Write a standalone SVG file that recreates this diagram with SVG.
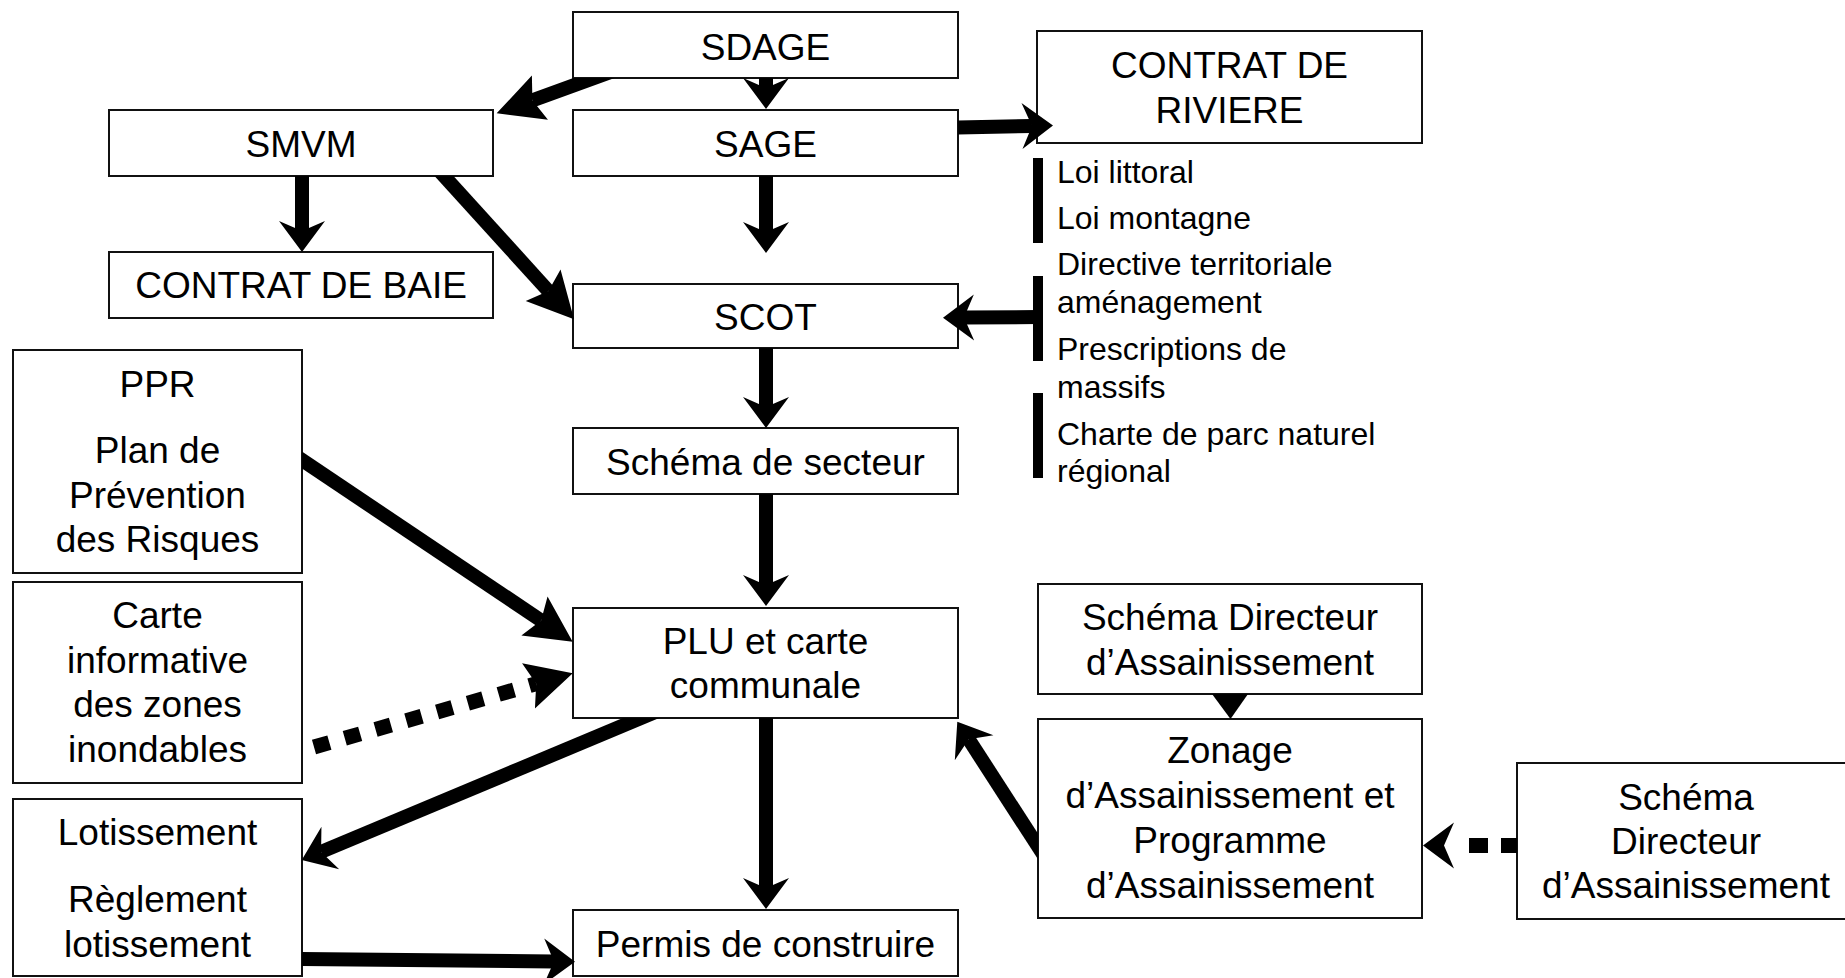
<svg xmlns="http://www.w3.org/2000/svg" width="1845" height="978" viewBox="0 0 1845 978">
<style>
.box{fill:#fff;stroke:#111;stroke-width:2}
text{font-family:"Liberation Sans",Arial,sans-serif;fill:#000}
.t{font-size:37px;text-anchor:middle}
.s{font-size:32px}
.c{stroke:#000;stroke-width:14;fill:none}
.d{stroke:#000;stroke-width:15;fill:none}
.bar{fill:#000}
</style>
<defs>
<marker id="ah" markerUnits="userSpaceOnUse" orient="auto" refX="0" refY="0" markerWidth="1" markerHeight="1" overflow="visible"><path d="M-10,-23 L21,0 L-10,23 L0,0 Z" fill="#000"/></marker>
<marker id="ahL" markerUnits="userSpaceOnUse" orient="auto" refX="0" refY="0" markerWidth="1" markerHeight="1" overflow="visible"><path d="M-8,-23.5 L38,0 L-8,23.5 L0,0 Z" fill="#000"/></marker>
<clipPath id="xSDAGE"><path clip-rule="evenodd" d="M0 0H1845V978H0Z M573 12H958V78H573Z"/></clipPath>
<clipPath id="xSMVM"><path clip-rule="evenodd" d="M0 0H1845V978H0Z M109 110H493V176H109Z"/></clipPath>
<clipPath id="xPPR"><path clip-rule="evenodd" d="M0 0H1845V978H0Z M13 350H302V573H13Z"/></clipPath>
<clipPath id="xPLU"><path clip-rule="evenodd" d="M0 0H1845V978H0Z M573 608H958V718H573Z"/></clipPath>
<clipPath id="xZON"><path clip-rule="evenodd" d="M0 0H1845V978H0Z M1038 719H1422V918H1038Z"/></clipPath>
</defs>
<rect width="1845" height="978" fill="#fff"/>

<g id="sdage"><rect class="box" x="573" y="12" width="385" height="66"/><text class="t" x="765.5" y="60">SDAGE</text></g>
<g id="sage"><rect class="box" x="573" y="110" width="385" height="66"/><text class="t" x="765.5" y="157">SAGE</text></g>
<g id="smvm"><rect class="box" x="109" y="110" width="384" height="66"/><text class="t" x="301" y="157">SMVM</text></g>
<g id="contrat-baie"><rect class="box" x="109" y="252" width="384" height="66"/><text class="t" x="301" y="298">CONTRAT DE BAIE</text></g>
<g id="contrat-riviere"><rect class="box" x="1037" y="31" width="385" height="112"/><text class="t" x="1229.5" y="78">CONTRAT DE</text><text class="t" x="1229.5" y="123">RIVIERE</text></g>
<g id="scot"><rect class="box" x="573" y="284" width="385" height="64"/><text class="t" x="765.5" y="330">SCOT</text></g>
<g id="schema-secteur"><rect class="box" x="573" y="428" width="385" height="66"/><text class="t" x="765.5" y="475">Schéma de secteur</text></g>
<g id="plu"><rect class="box" x="573" y="608" width="385" height="110"/><text class="t" x="765.5" y="654">PLU et carte</text><text class="t" x="765.5" y="698">communale</text></g>
<g id="permis"><rect class="box" x="573" y="910" width="385" height="66"/><text class="t" x="765.5" y="957">Permis de construire</text></g>
<g id="ppr"><rect class="box" x="13" y="350" width="289" height="223"/><text class="t" x="157.5" y="397">PPR</text><text class="t" x="157.5" y="463">Plan de</text><text class="t" x="157.5" y="508">Prévention</text><text class="t" x="157.5" y="552">des Risques</text></g>
<g id="carte"><rect class="box" x="13" y="582" width="289" height="201"/><text class="t" x="157.5" y="628">Carte</text><text class="t" x="157.5" y="672.5">informative</text><text class="t" x="157.5" y="717">des zones</text><text class="t" x="157.5" y="761.5">inondables</text></g>
<g id="lotissement"><rect class="box" x="13" y="799" width="289" height="177"/><text class="t" x="157.5" y="845">Lotissement</text><text class="t" x="157.5" y="912">Règlement</text><text class="t" x="157.5" y="957">lotissement</text></g>
<g id="sda-top"><rect class="box" x="1038" y="584" width="384" height="110"/><text class="t" x="1230" y="630">Schéma Directeur</text><text class="t" x="1230" y="675">d’Assainissement</text></g>
<g id="zonage"><rect class="box" x="1038" y="719" width="384" height="199"/><text class="t" x="1230" y="763">Zonage</text><text class="t" x="1230" y="808">d’Assainissement et</text><text class="t" x="1230" y="853">Programme</text><text class="t" x="1230" y="898">d’Assainissement</text></g>
<g id="sda-right"><rect class="box" x="1517" y="763" width="340" height="156"/><text class="t" x="1686" y="810">Schéma</text><text class="t" x="1686" y="854">Directeur</text><text class="t" x="1686" y="898">d’Assainissement</text></g>
<g id="lois">
<rect class="bar" x="1033" y="158" width="10" height="85"/>
<rect class="bar" x="1033" y="276" width="10" height="85"/>
<rect class="bar" x="1033" y="393" width="10" height="85"/>
<text class="s" x="1057" y="183">Loi littoral</text>
<text class="s" x="1057" y="229">Loi montagne</text>
<text class="s" x="1057" y="275">Directive territoriale</text>
<text class="s" x="1057" y="313">aménagement</text>
<text class="s" x="1057" y="360">Prescriptions de</text>
<text class="s" x="1057" y="398">massifs</text>
<text class="s" x="1057" y="445">Charte de parc naturel</text>
<text class="s" x="1057" y="482">régional</text>
</g>

<g id="connectors">
<line class="c" x1="766" y1="78" x2="766" y2="88" marker-end="url(#ah)"/>
<line class="c" x1="766" y1="176" x2="766" y2="232" marker-end="url(#ah)"/>
<line class="c" x1="766" y1="348" x2="766" y2="407" marker-end="url(#ah)"/>
<line class="c" x1="766" y1="494" x2="766" y2="585" marker-end="url(#ah)"/>
<line class="c" x1="766" y1="718" x2="766" y2="888" marker-end="url(#ah)"/>
<line class="c" x1="302" y1="176" x2="302" y2="231" marker-end="url(#ah)"/>
<line class="c" x1="958" y1="127.5" x2="1032" y2="125.9" marker-end="url(#ah)"/>
<line class="c" x1="1038" y1="317" x2="964" y2="317.5" marker-end="url(#ah)"/>
<line class="c" x1="645.2" y1="59.3" x2="532.4" y2="100.3" clip-path="url(#xSDAGE)" marker-end="url(#ahL)"/>
<line class="c" x1="430.6" y1="161.2" x2="548.5" y2="291.1" clip-path="url(#xSMVM)" marker-end="url(#ahL)"/>
<line class="c" x1="285.4" y1="448.9" x2="541.1" y2="620.5" clip-path="url(#xPPR)" marker-end="url(#ahL)"/>
<line class="d" x1="314" y1="747" x2="536.2" y2="683.7" stroke-dasharray="16 16" marker-end="url(#ahL)"/>
<line class="c" x1="659.5" y1="710.3" x2="321.1" y2="851.9" clip-path="url(#xPLU)" marker-end="url(#ah)"/>
<line class="c" x1="302" y1="959" x2="554" y2="961.5" marker-end="url(#ah)"/>
<line class="c" x1="1047.9" y1="861.8" x2="968.7" y2="739.3" clip-path="url(#xZON)" marker-end="url(#ah)"/>
<line class="d" x1="1517" y1="845.5" x2="1444" y2="845.5" stroke-dasharray="16 13 19 100" marker-end="url(#ah)"/>
<polygon points="1212,694 1248,694 1230.5,719" fill="#000"/>
</g>
</svg>
